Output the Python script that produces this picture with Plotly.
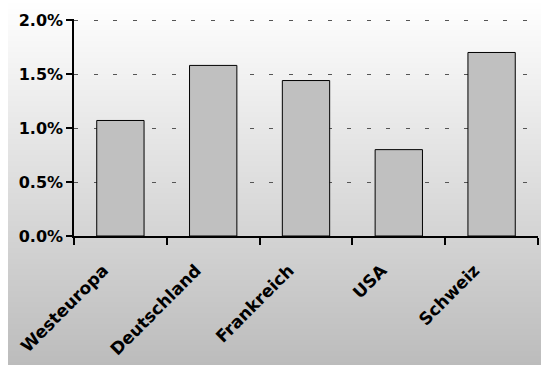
import base64, struct, zlib
import plotly.graph_objects as go

categories = ["Westeuropa", "Deutschland", "Frankreich", "USA", "Schweiz"]
values = [1.07, 1.58, 1.44, 0.80, 1.70]
y_ticks = [0.0, 0.5, 1.0, 1.5, 2.0]


def gradient_png(h=365, top=255, bottom=188):
    rows = b""
    for i in range(h):
        v = int(round(top + (bottom - top) * i / (h - 1)))
        rows += b"\x00" + bytes([v, v, v])
    def chunk(t, d):
        c = struct.pack(">I", len(d)) + t + d
        return c + struct.pack(">I", zlib.crc32(t + d) & 0xffffffff)
    png = b"\x89PNG\r\n\x1a\n"
    png += chunk(b"IHDR", struct.pack(">IIBBBBB", 1, h, 8, 2, 0, 0, 0))
    png += chunk(b"IDAT", zlib.compress(rows))
    png += chunk(b"IEND", b"")
    return "data:image/png;base64," + base64.b64encode(png).decode()


W, H = 541, 365
ml, mr, mt, mb = 74, 3, 19, 129
pw, ph = W - ml - mr, H - mt - mb

font = dict(family="'DejaVu Sans', sans-serif", size=16, color="black", weight="bold")
xfont = dict(family="'DejaVu Sans', sans-serif", size=17, color="black", weight="bold")

fig = go.Figure(go.Bar(
    x=categories, y=values,
    marker=dict(color="#c0c0c0", line=dict(color="black", width=1)),
))

fig.add_layout_image(
    source=gradient_png(), xref="paper", yref="paper",
    x=(8 - ml) / pw, y=1 + mt / ph, sizex=(W - 8) / pw, sizey=H / ph,
    xanchor="left", yanchor="top", sizing="stretch", layer="below",
)

fig.update_layout(
    width=W, height=H,
    margin=dict(l=ml, r=mr, t=mt, b=mb),
    paper_bgcolor="white", plot_bgcolor="rgba(0,0,0,0)",
    bargap=0.49, showlegend=False, font=font,
    xaxis=dict(
        range=[-0.5, 4.5], showline=True, linecolor="black", linewidth=1.5,
        ticks="outside", tickson="boundaries", ticklen=7, tickcolor="black", tickwidth=1.5,
        tickangle=-45, showgrid=False, tickfont=xfont,
        ticklabelstandoff=16, ticklabelshift=-17,
    ),
    yaxis=dict(
        range=[0, 2.01], tickvals=y_ticks, ticktext=[f"{v:.1f}%" for v in y_ticks],
        showline=True, linecolor="black", linewidth=1.5,
        ticks="outside", ticklen=6, tickcolor="black", tickwidth=1.5,
        showgrid=True, gridcolor="#555555", gridwidth=1.3, griddash="4px,15.5px",
        zeroline=False, tickfont=font,
    ),
)

fig.write_html("out.html")
